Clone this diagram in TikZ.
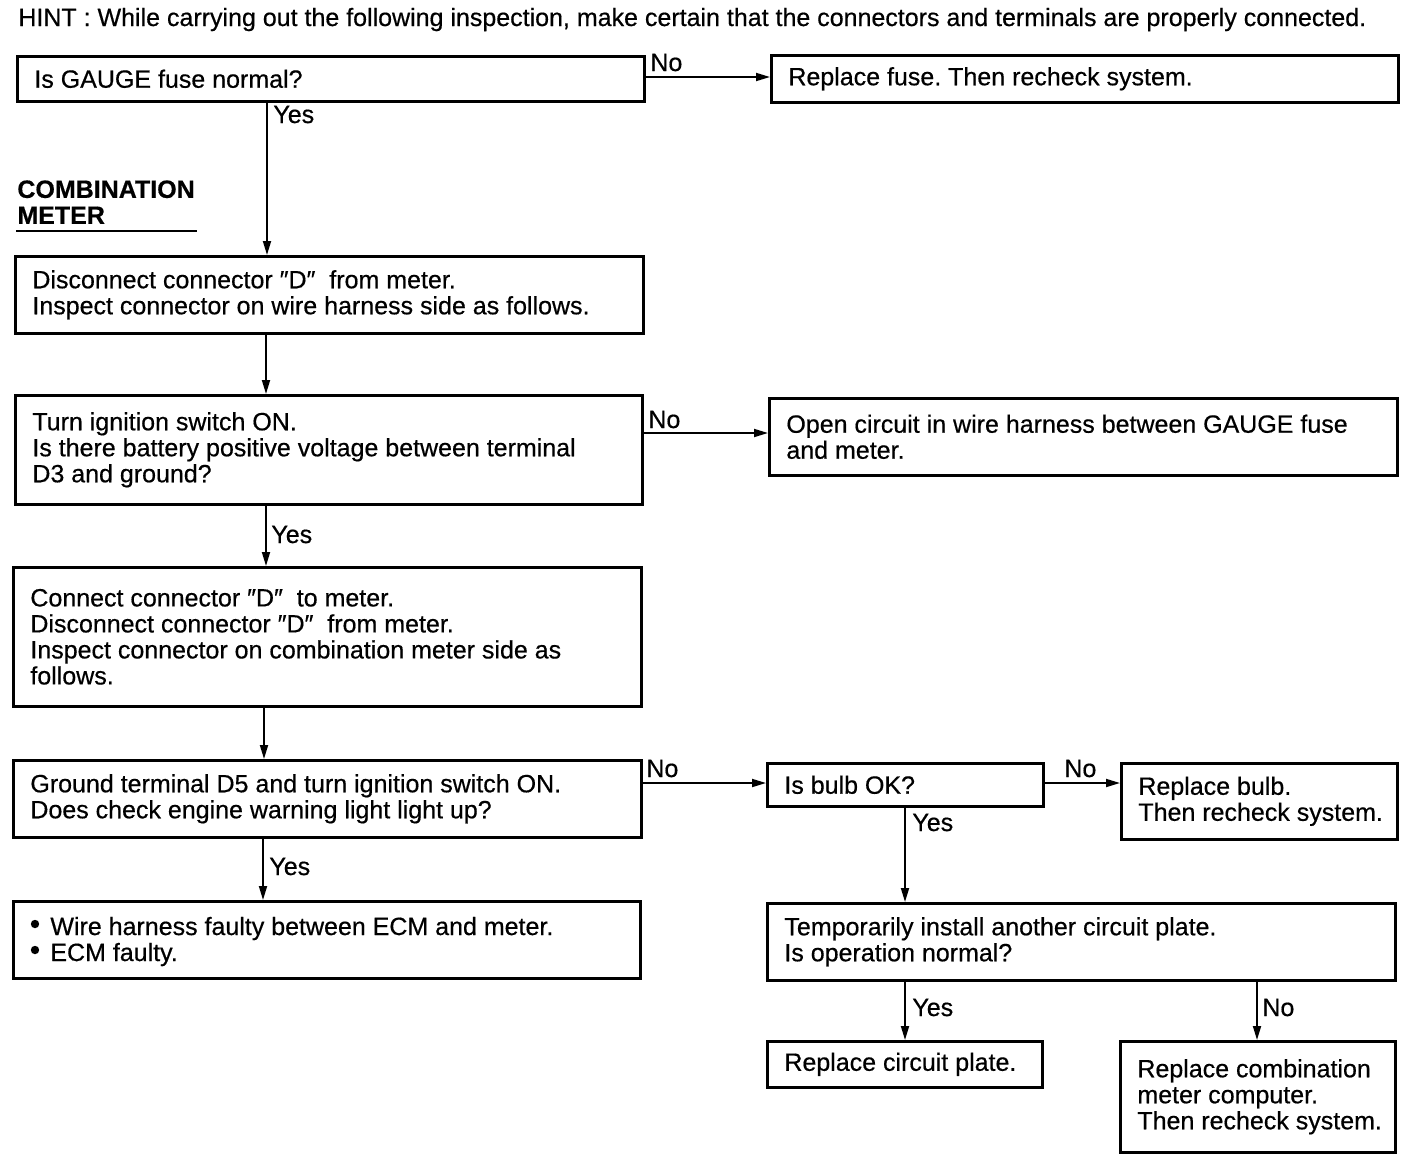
\documentclass[tikz,border=0pt]{standalone}
\usepackage{fontspec}
\setmainfont{Liberation Sans}[FakeBold=0.5]
\usetikzlibrary{arrows.meta}
\frenchspacing
\newcommand\fs{\fontsize{12.5}{13}\selectfont}
\newcommand\mybox[6]{%
  \node[box, minimum width=\dimexpr #4pt/2\relax, minimum height=\dimexpr #5pt/2\relax] (#1) at (#2,#3) {};
  \node[txt] (#1t) at ([xshift=9pt]#1.west) {#6};}
\tikzset{
  box/.style={draw, line width=1.3pt, inner sep=0pt, anchor=north west},
  txt/.style={inner sep=0pt, align=left, font=\fs, anchor=west},
  arr/.style={-{Triangle[length=7pt,width=4pt]}, line width=0.9pt},
  lbl/.style={font=\fs, inner sep=0pt, anchor=base west},
  dot/.style={fill, circle, inner sep=0pt, minimum size=4.2pt}
}
\begin{document}
\begin{tikzpicture}[x=0.5pt,y=-0.5pt]
\useasboundingbox (0,0) rectangle (1408,1162);
\node[lbl] (hint) at (18,26) {HINT : While carrying out the following inspection, make certain that the connectors and terminals are properly connected.};

\mybox{b1}{16}{55}{627}{45}{Is GAUGE fuse normal?}
\mybox{r1}{770}{54}{627}{47}{Replace fuse. Then recheck system.}
\mybox{b2}{14}{255}{628}{77}{Disconnect connector ″D″~ from meter.\\Inspect connector on wire harness side as follows.}
\mybox{b3}{14}{394}{627}{109}{Turn ignition switch ON.\\Is there battery positive voltage between terminal\\D3 and ground?}
\mybox{r3}{768}{397}{628}{77}{Open circuit in wire harness between GAUGE fuse\\and meter.}
\mybox{b4}{12}{566}{628}{139}{Connect connector ″D″~ to meter.\\Disconnect connector ″D″~ from meter.\\Inspect connector on combination meter side as\\follows.}
\mybox{b5}{12}{759}{628}{77}{Ground terminal D5 and turn ignition switch ON.\\Does check engine warning light light up?}
\mybox{bulb}{766}{762}{276}{43}{Is bulb OK?}
\mybox{rb}{1120}{762}{276}{76}{Replace bulb.\\Then recheck system.}
\mybox{tp}{766}{902}{628}{77}{Temporarily install another circuit plate.\\Is operation normal?}
\mybox{rcp}{766}{1040}{275}{46}{Replace circuit plate.}
\mybox{rcm}{1119}{1040}{275}{111}{Replace combination\\meter computer.\\Then recheck system.}
\node[box, minimum width=313.5pt, minimum height=38.5pt] (fin) at (12,900) {};
\node[txt, anchor=base west] (fin1) at (50,935) {Wire harness faulty between ECM and meter.};
\node[txt, anchor=base west] (fin2) at (50,961) {ECM faulty.};
\node[dot] (d1) at (35,924) {};
\node[dot] (d2) at (35,950) {};

\node[font=\fs\bfseries, align=left, inner sep=0pt, anchor=north west] (cm) at (17,180) {COMBINATION\\METER};
\draw[line width=0.9pt] (16,231) -- (197,231);

% helper coordinates
\coordinate (x1) at (267,0);
\coordinate (x2) at (266,0);
\coordinate (x4) at (264,0);
\coordinate (x5) at (263,0);
\coordinate (xb) at (905,0);
\coordinate (xn) at (1257,0);
\coordinate (y1) at (0,77);
\coordinate (y3) at (0,433);
\coordinate (y5) at (0,783);

\draw[arr] (b1.east |- y1) -- (r1.west |- y1);
\draw[arr] (b1.south -| x1) -- (b2.north -| x1);
\draw[arr] (b2.south -| x2) -- (b3.north -| x2);
\draw[arr] (b3.east |- y3) -- (r3.west |- y3);
\draw[arr] (b3.south -| x2) -- (b4.north -| x2);
\draw[arr] (b4.south -| x4) -- (b5.north -| x4);
\draw[arr] (b5.east |- y5) -- (bulb.west |- y5);
\draw[arr] (bulb.east |- y5) -- (rb.west |- y5);
\draw[arr] (b5.south -| x5) -- (fin.north -| x5);
\draw[arr] (bulb.south -| xb) -- (tp.north -| xb);
\draw[arr] (tp.south -| xb) -- (rcp.north -| xb);
\draw[arr] (tp.south -| xn) -- (rcm.north -| xn);

\node[lbl] (l1) at (650,71) {No};
\node[lbl] (l2) at (273,123) {Yes};
\node[lbl] (l3) at (648,428) {No};
\node[lbl] (l4) at (271,543) {Yes};
\node[lbl] (l5) at (646,777) {No};
\node[lbl] (l6) at (269,875) {Yes};
\node[lbl] (l7) at (1064,777) {No};
\node[lbl] (l8) at (912,831) {Yes};
\node[lbl] (l9) at (912,1016) {Yes};
\node[lbl] (l10) at (1262,1016) {No};
\end{tikzpicture}
\end{document}
